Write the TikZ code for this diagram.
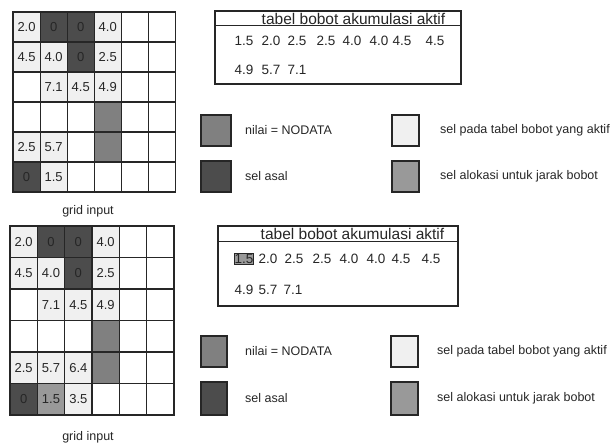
\documentclass[tikz,border=0pt]{standalone}
\usepackage{fontspec}
\setmainfont{Liberation Sans}
\begin{document}
\begin{tikzpicture}[x=1pt, y=-1pt,
    cell/.style={draw=black!85, line width=1.1pt, fill=white, inner sep=0pt, minimum width=27.1pt, minimum height=30pt, font=\fontsize{13}{15}\selectfont, text=black!85},
    cellb/.style={cell, minimum width=27.3pt, minimum height=31.5pt},
    asal/.style={fill=black!70},
    nodata/.style={fill=black!50},
    aktif/.style={fill=black!6},
    alokasi/.style={fill=black!40},
    swatch/.style={draw=black!85, line width=1.1pt, inner sep=0pt, minimum width=27pt, minimum height=31pt},
    legtext/.style={anchor=west, inner sep=0pt, font=\fontsize{12.5}{14}\selectfont, text=black!85},
    tabbox/.style={draw=black!85, line width=1.1pt, inner sep=0pt, minimum width=246pt, minimum height=73pt},
    tabtitle/.style={font=\fontsize{15.5}{17}\selectfont, text=black!85, inner sep=0pt},
    val/.style={font=\fontsize{13.5}{15}\selectfont, text=black!85, inner sep=0.5pt},
    lbl/.style={font=\fontsize{12.5}{14}\selectfont, text=black!85}
  ]
    \useasboundingbox (0,0) rectangle (612,446);

    % --- TOP: grid input ---
    \foreach \c in {1,...,6} \foreach \r in {1,...,6}
      \node[cell] (p\c-\r) at ({13+27.08*(\c-0.5)}, {12+30*(\r-0.5)}) {};
    \foreach \c/\r/\s/\v in {1/1/aktif/2.0, 2/1/asal/0, 3/1/asal/0, 4/1/aktif/4.0,
        1/2/aktif/4.5, 2/2/aktif/4.0, 3/2/asal/0, 4/2/aktif/2.5,
        2/3/aktif/7.1, 3/3/aktif/4.5, 4/3/aktif/4.9, 4/4/nodata/{},
        1/5/aktif/2.5, 2/5/aktif/5.7, 4/5/nodata/{}, 1/6/asal/0, 2/6/aktif/1.5}
      \node[cell, \s] (pv\c-\r) at (p\c-\r) {\v};
    \node[lbl] (gin1) at (88,211) {grid input};

    % Active weight table
    \node[tabbox] (tab1) at (338,47.5) {};
    \draw[draw=black!85, line width=1.1pt] ([yshift=-15pt]tab1.north west) -- ([yshift=-15pt]tab1.north east);
    \node[tabtitle] (tt1) at (353.5,18.5) {tabel bobot akumulasi aktif};
    \foreach \x/\v [count=\i] in {244/1.5, 271/2.0, 297/2.5, 326/2.5, 352/4.0, 379/4.0, 402/4.5, 435/4.5}
      \node[val] (ra\i) at (\x,41) {\v};
    \foreach \x/\v [count=\i] in {244/4.9, 271/5.7, 297/7.1}
      \node[val] (rb\i) at (\x,70) {\v};

    % Legend
    \node[swatch, nodata, minimum width=30pt] (sa1) at (216,130.5) {};
    \node[legtext] (ta1) at (245,130.5) {nilai = NODATA};
    \node[swatch, asal, minimum width=30pt] (sa2) at (216,176.5) {};
    \node[legtext] (ta2) at (245,176.5) {sel asal};
    \node[swatch, aktif] (sa3) at (405.5,130.5) {};
    \node[legtext] (ta3) at (440,130.5) {sel pada tabel bobot yang aktif};
    \node[swatch, alokasi] (sa4) at (405.5,176.5) {};
    \node[legtext] (ta4) at (440,176.5) {sel alokasi untuk jarak bobot};

    % --- BOTTOM: grid input ---
    \foreach \c in {1,...,6} \foreach \r in {1,...,6}
      \node[cellb] (q\c-\r) at ({10+27.33*(\c-0.5)}, {226+31.5*(\r-0.5)}) {};
    \foreach \c/\r/\s/\v in {1/1/aktif/2.0, 2/1/asal/0, 3/1/asal/0, 4/1/aktif/4.0,
        1/2/aktif/4.5, 2/2/aktif/4.0, 3/2/asal/0, 4/2/aktif/2.5,
        2/3/aktif/7.1, 3/3/aktif/4.5, 4/3/aktif/4.9, 4/4/nodata/{},
        1/5/aktif/2.5, 2/5/aktif/5.7, 3/5/aktif/6.4, 4/5/nodata/{},
        1/6/asal/0, 2/6/alokasi/1.5, 3/6/aktif/3.5}
      \node[cellb, \s] (qv\c-\r) at (q\c-\r) {\v};
    \node[lbl] (gin2) at (88,437) {grid input};

    % Active weight table
    \node[tabbox, minimum width=240pt, minimum height=80pt] (tab2) at (338,266) {};
    \draw[draw=black!85, line width=1.1pt] ([yshift=-16pt]tab2.north west) -- ([yshift=-16pt]tab2.north east);
    \node[tabtitle] (tt2) at (352.5,234) {tabel bobot akumulasi aktif};
    \node[val, draw=black!85, line width=1pt, alokasi] (sa0) at (244,259) {1.5};
    \foreach \x/\v [count=\i] in {268/2.0, 294/2.5, 322/2.5, 349/4.0, 376/4.0, 401/4.5, 431/4.5}
      \node[val] (sb\i) at (\x,259) {\v};
    \foreach \x/\v [count=\i] in {244/4.9, 268/5.7, 293/7.1}
      \node[val] (sc\i) at (\x,290) {\v};

    % Legend
    \node[swatch, nodata, minimum width=26pt] (sb1) at (214,351.5) {};
    \node[legtext] (tb1) at (245,351.5) {nilai = NODATA};
    \node[swatch, asal, minimum width=26pt, minimum height=33pt] (sb2) at (214,398.5) {};
    \node[legtext] (tb2) at (245,398.5) {sel asal};
    \node[swatch, aktif] (sb3) at (404.5,351.5) {};
    \node[legtext] (tb3) at (437,351.5) {sel pada tabel bobot yang aktif};
    \node[swatch, alokasi, minimum height=33pt] (sb4) at (404.5,398.5) {};
    \node[legtext] (tb4) at (437,398.5) {sel alokasi untuk jarak bobot};
  \end{tikzpicture}
\end{document}
